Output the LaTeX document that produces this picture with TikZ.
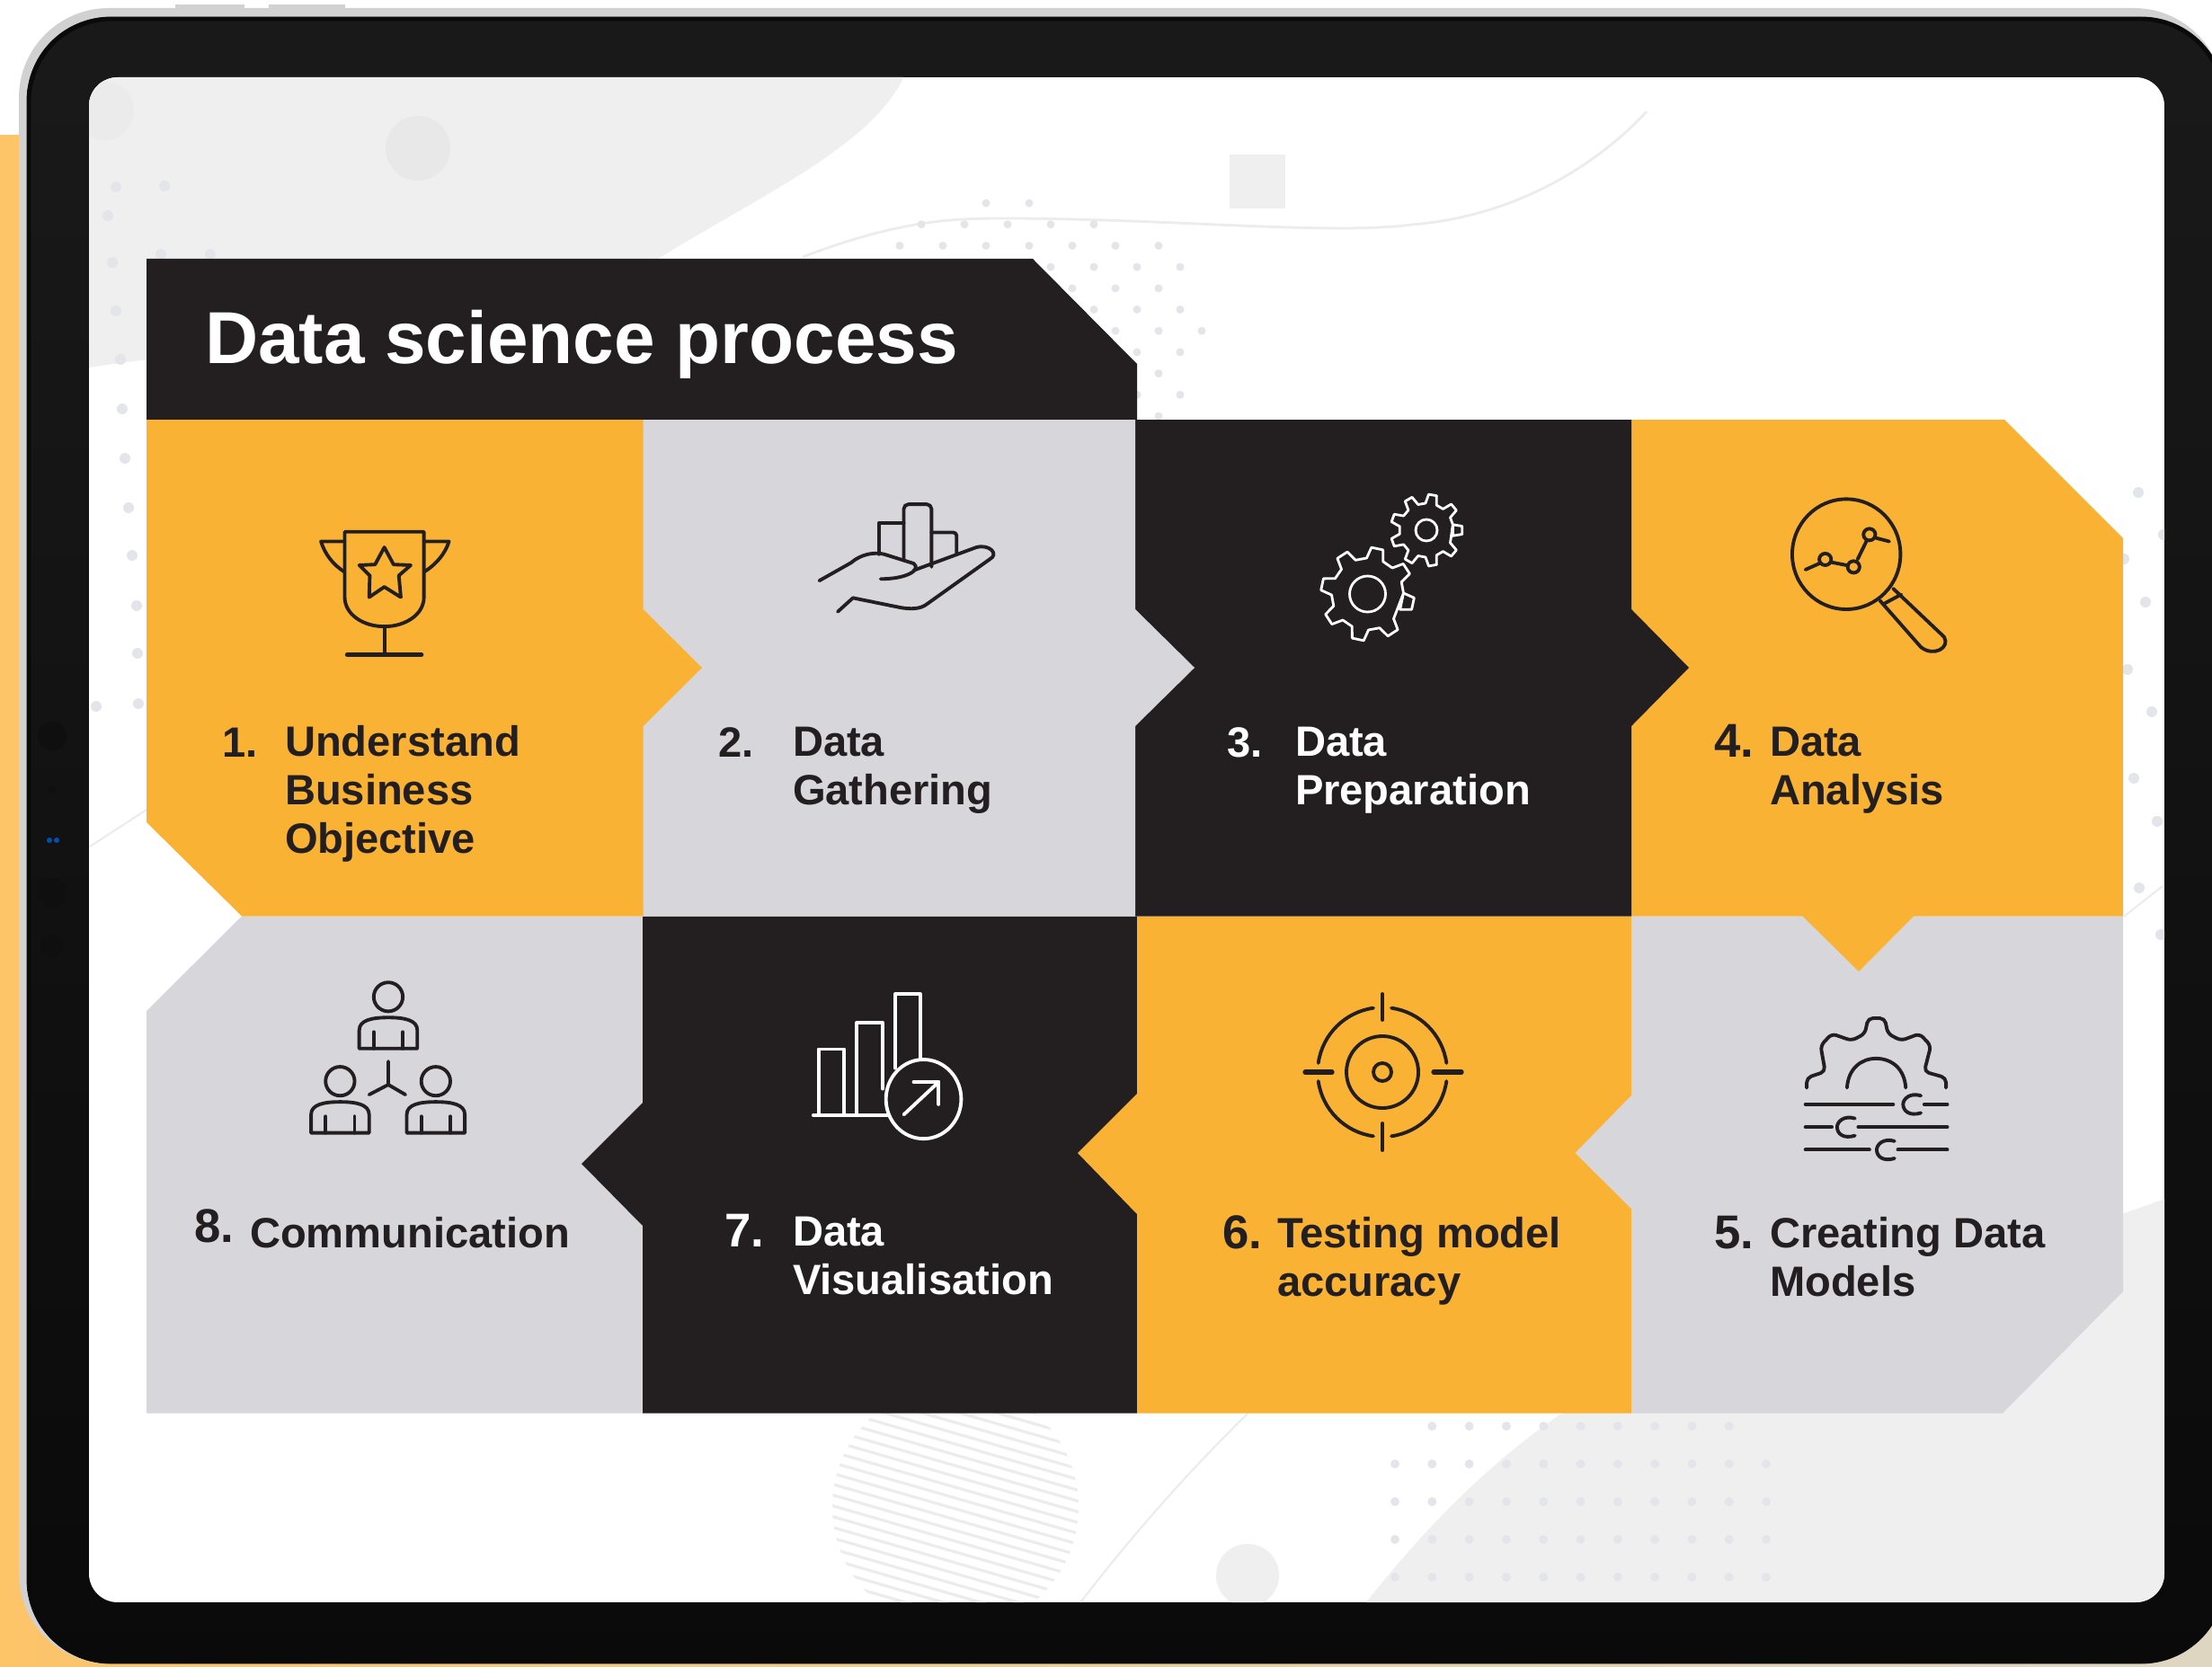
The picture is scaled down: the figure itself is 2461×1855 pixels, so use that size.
\documentclass[tikz,border=0pt]{standalone}
\usepackage{fontspec}
\setmainfont{Liberation Sans}
\definecolor{cOrange}{HTML}{F9B233}
\definecolor{cGray}{HTML}{D6D6DB}
\definecolor{cInk}{HTML}{231F20}
\definecolor{cBack}{HTML}{FDC468}
\definecolor{cBeige}{HTML}{DFD6C2}
\definecolor{cBlob}{HTML}{EFEFEF}
\definecolor{cDot}{HTML}{E4E5EA}
\definecolor{cFaint}{HTML}{ECECEC}
\tikzset{
  ico/.style={line width=1.1pt,line join=round,line cap=round,draw=#1},
  ico/.default=cInk,
  lab/.style={anchor=base west,align=left,inner sep=0pt,outer sep=0pt,text=cInk,
    font=\bfseries\fontsize{13.4}{15.25}\selectfont},
  num/.style={lab},
  bignum/.style={lab,font=\bfseries\fontsize{15}{17}\selectfont},
  zoomA/.style={shift={(150,450)},x=0.007334cm,y=-0.003827cm},
  zoomB/.style={shift={(1300,450)},x=0.007334cm,y=-0.003827cm},
  zoomC/.style={shift={(150,1020)},x=0.007334cm,y=-0.003827cm},
  zoomD/.style={shift={(1300,1020)},x=0.007334cm,y=-0.003827cm},
}
\newcommand{\gearicon}[6]{%
  \begin{scope}[shift={(#1,#2)}]
    \draw[ico=white,line width=0.8pt] ({#6-108/#5}:#4)
      \foreach \k [evaluate=\k as \a using #6+\k*360/#5] in {1,...,#5} {
        -- ({\a-108/#5}:#4) -- ({\a-58/#5}:#3) -- ({\a+58/#5}:#3) -- ({\a+108/#5}:#4)
      } -- cycle;
  \end{scope}}
\begin{document}
\begin{tikzpicture}[x=0.01cm,y=-0.01cm]
\useasboundingbox (0,0) rectangle (2461,1855);
% surroundings
\fill[white] (0,0) rectangle (2461,1855);
\fill[cBack] (0,150) rectangle (200,1855);
\shade[left color=cBack,right color=cBeige] (0,1700) rectangle (2461,1855);
% tablet
\fill[rounded corners=100*0.01cm,fill=black!18] (21,9) rectangle (2474,1851);
\shade[rounded corners=92*0.01cm,top color=black!90,bottom color=black!96]
  (30,19) rectangle (2474,1851);
\draw[rounded corners=92*0.01cm,line width=1.4pt,draw=black!96] (32,21) rectangle (2474,1849);
\fill[black!18] (195,5) rectangle (272,11);
\fill[black!18] (299,5) rectangle (384,11);
\fill[black!94] (58,819) circle (16);
\fill[black!94] (58,878) circle (4);
\fill[black!94] (58,993) circle (16);
\fill[black!94] (58,1052) circle (13);
\fill[blue!55!cyan!70!black] (55,935) circle (3) (63,935) circle (3);
% screen
\begin{scope}
\clip[rounded corners=32*0.01cm] (99,86) rectangle (2408,1783);
\fill[white] (99,86) rectangle (2408,1783);
\fill[cBlob] (90,80) -- (1008,80) .. controls (975,160) and (850,215) .. (732,288)
  -- (163,400) -- (90,410) -- cycle;
\fill[black!8] (116,123) circle (33);
\fill[black!9] (465,165) circle (36);
\fill[cBlob] (1368,172) rectangle (1430,232);
\draw[cFaint,line width=0.8pt] (893,286) .. controls (1000,245) and (1060,243) .. (1116,243)
  .. controls (1300,243) and (1480,262) .. (1570,250) .. controls (1700,240) and (1790,170) .. (1832,124);
% dot field behind the heading
\foreach \r in {0,...,10} {
  \foreach \c in {-4,...,5} {
    \pgfmathsetmacro{\px}{1145+48*\c-(mod(\r,2)==0?0:24)}
    \pgfmathsetmacro{\py}{226+23.7*\r}
    \pgfmathsetmacro{\val}{((\px-1130)/210)^2+((\py-370)/150)^2}
    \ifdim\val pt<1pt
      \fill[cDot] (\px,\py) circle (4.5);
    \fi
  }
}
% dots beside the panel
\foreach \px/\py in {129/208,183/207,120/240,125/292,179/283,234/283,129/346,134/400,136/455,139/510,143/565,147/618,152/674,153/727,154/783,107/786,
  2379/548,2407/595,2363/622,2387/670,2367/745,2394/792,2374/866,2400/914,2380/988,2404/1040}
  \fill[cDot] (\px,\py) circle (6);
\draw[cFaint,line width=0.6pt] (100,942) -- (163,901);
\draw[cFaint,line width=0.6pt] (2406,986) -- (2363,1020);
% lower right blob
\fill[cBlob] (2420,1330) -- (1737,1573) .. controls (1640,1640) and (1570,1720) .. (1520,1783)
  -- (2420,1795) -- cycle;
\fill[cBlob] (1388,1753) circle (35);
\draw[cFaint,line width=0.6pt] (1388,1573) .. controls (1310,1650) and (1255,1715) .. (1202,1783);
\foreach \ki in {0,...,4} \foreach \kj in {0,...,10}
  {\pgfmathsetmacro{\px}{1552+41.3*\kj}\pgfmathsetmacro{\py}{1587+42*\ki}
   \ifnum\numexpr\ki*100+\kj\relax=0 \else
   \ifnum\numexpr\ki*100+\kj\relax=10 \else
   \fill[cDot] (\px,\py) circle (5);\fi\fi}
\begin{scope}
\clip (1063,1677) circle (137);
\foreach \hy in {1440,1452,...,1800}
  \draw[cFaint,line width=0.9pt] (900,\hy) -- ++(340,98);
\end{scope}
\end{scope}
% heading
\fill[cInk] (163,288) -- (1149,288) -- (1265,405) -- (1265,467) -- (163,467) -- cycle;
\node[lab,text=white,font=\bfseries\fontsize{23.3}{26}\selectfont] (title) at (228,405) {Data science process};
% row two
\fill[cGray] (269,1019.5) -- (715,1019.5) -- (715,1572.6) -- (163,1572.6) -- (163,1125) -- cycle;
\fill[cInk] (715,1019.5) -- (1265,1019.5) -- (1265,1572.6) -- (715,1572.6) -- (715,1364) -- (647,1295) -- (715,1227) -- cycle;
\fill[cOrange] (1265,1019.5) -- (1815,1019.5) -- (1815,1572.6) -- (1265,1572.6) -- (1265,1351) -- (1199,1283) -- (1265,1217) -- cycle;
\fill[cGray] (1815,1019.5) -- (2362,1019.5) -- (2362,1437) -- (2228,1572.6) -- (1815,1572.6) -- (1815,1345) -- (1752.5,1283) -- (1815,1219) -- cycle;
% row one
\fill[cOrange] (1815,467) -- (2230,467) -- (2362,599) -- (2362,1019.5) -- (2129,1019.5) -- (2068,1081) -- (2005.5,1019.5) -- (1815,1019.5) -- cycle;
\fill[cInk] (1263,467) -- (1815,467) -- (1815,678) -- (1879,743) -- (1815,808) -- (1815,1019.5) -- (1263,1019.5) -- cycle;
\fill[cGray] (715,467) -- (1263,467) -- (1263,678) -- (1329,743) -- (1263,808) -- (1263,1019.5) -- (715,1019.5) -- cycle;
\fill[cOrange] (163,467) -- (715.5,467) -- (715.5,678) -- (781,743) -- (715.5,808) -- (715.5,1019.5) -- (269,1019.5) -- (163,915) -- cycle;
% labels (a several-line node sits on the baseline of its last line)
\node[num] (n1) at (247,842) {1.};
\node[lab] (l1) at (317,949) {Understand\\Business\\Objective};
\node[num] (n2) at (799,842) {2.};
\node[lab] (l2) at (882,895.6) {Data\\Gathering};
\node[num,text=white] (n3) at (1365,842) {3.};
\node[lab,text=white] (l3) at (1441,895.6) {Data\\Preparation};
\node[bignum] (n4) at (1907,842) {4.};
\node[lab] (l4) at (1969,895.6) {Data\\Analysis};
\node[bignum] (n5) at (1907,1389) {5.};
\node[lab] (l5) at (1969,1442.6) {Creating Data\\Models};
\node[bignum] (n6) at (1360,1389) {6.};
\node[lab] (l6) at (1421,1442.6) {Testing model\\accuracy};
\node[bignum,text=white] (n7) at (806,1387) {7.};
\node[lab,text=white] (l7) at (882,1440.6) {Data\\Visualisation};
\node[bignum] (n8) at (216,1382) {8.};
\node[lab] (l8) at (278,1388) {Communication};
% trophy
\begin{scope}[zoomA]
\draw[ico] (318,370) -- (438,370) -- (438,560) .. controls (438,610) and (410,645) .. (378,645)
  .. controls (346,645) and (318,610) .. (318,560) -- cycle;
\draw[ico] (318,398) -- (282,398) .. controls (288,435) and (300,465) .. (318,487);
\draw[ico] (438,398) -- (476,398) .. controls (470,435) and (456,465) .. (438,487);
\draw[ico] (378,415) -- (392,465) -- (418,467) -- (400,497) -- (403,560) -- (378,530) -- (355,560) -- (356,497) -- (340,467) -- (364,465) -- cycle;
\draw[ico] (378,645) -- (378,725);
\draw[ico,line width=1.5pt] (322,727) -- (434,727);
\end{scope}
% hand with bars
\begin{scope}[zoomA]
\draw[ico] (1127,435) -- (1127,345) -- (1165,345);
\draw[ico,rounded corners=1.5pt] (1165,450) -- (1165,290) -- (1207,290) -- (1207,472);
\draw[ico,rounded corners=1pt] (1207,372) -- (1245,372) -- (1245,435);
\draw[ico] (1037,512) -- (1085,460) .. controls (1100,435) and (1120,428) .. (1135,435) -- (1180,462)
  .. controls (1192,480) and (1170,507) .. (1130,507);
\draw[ico] (1180,482) -- (1275,415) .. controls (1295,405) and (1310,435) .. (1295,450) -- (1200,580)
  .. controls (1190,595) and (1175,595) .. (1160,590) -- (1088,562) -- (1065,602);
\end{scope}
% gears
\gearicon{1521.5}{661}{52}{40}{8}{12}
\gearicon{1587}{590}{40}{30}{9}{0}
\draw[ico=white,line width=0.8pt] (1521.5,661) circle (20);
\draw[ico=white,line width=0.8pt] (1587,590) circle (12);
% magnifier
\begin{scope}[zoomB]
\draw[ico] (1027,435) circle [x radius=82,y radius=160];
\draw[ico] (1098,535) -- (1175,675) .. controls (1185,705) and (1160,735) .. (1140,705) -- (1078,570);
\draw[ico] (1083,580) -- (1110,552);
\draw[ico] (965,480) -- (986,462);
\draw[ico] (1003,458) -- (1030,468);
\draw[ico] (1044,450) -- (1058,395);
\draw[ico] (1072,388) -- (1092,398);
\draw[ico] (995,450) circle [x radius=9,y radius=17];
\draw[ico] (1038,472) circle [x radius=9,y radius=17];
\draw[ico] (1062,378) circle [x radius=9,y radius=17];
\end{scope}
% target
\draw[ico] (1538,1193) ++(8:72) arc (8:82:72);
\draw[ico] (1538,1193) ++(98:72) arc (98:172:72);
\draw[ico] (1538,1193) ++(188:72) arc (188:262:72);
\draw[ico] (1538,1193) ++(278:72) arc (278:352:72);
\draw[ico] (1538,1193) circle (40);
\draw[ico] (1538,1193) circle (10);
\draw[ico] (1538,1106) -- (1538,1135);
\draw[ico] (1538,1250) -- (1538,1280);
\draw[ico,line width=1.5pt] (1452,1193) -- (1482,1193);
\draw[ico,line width=1.5pt] (1595,1193) -- (1626,1193);
% settings gear with sliders
\begin{scope}[zoomD]
\draw[ico,rounded corners=1.5pt] (967,497) -- (967,468) -- (995,450) -- (988,375) -- (1005,340) -- (1035,360) -- (1055,340) -- (1060,295)
  -- (1085,295) -- (1090,340) -- (1110,360) -- (1138,340) -- (1155,375) -- (1145,450) -- (1178,468) -- (1178,497);
\draw[ico] (1028,497) .. controls (1030,440) and (1050,412) .. (1072,412) .. controls (1095,412) and (1115,440) .. (1117,497);
\draw[ico] (965,545) -- (1098,545);
\draw[ico] (1145,545) -- (1180,545);
\draw[ico] (965,611) -- (1005,611);
\draw[ico] (1045,611) -- (1180,611);
\draw[ico] (965,677) -- (1062,677);
\draw[ico] (1105,677) -- (1180,677);
\foreach \kx/\ky in {1128/545,1028/611,1088/677}
  \draw[ico] (\kx+12,\ky-25) .. controls (\kx-5,\ky-35) and (\kx-15,\ky-15) .. (\kx-15,\ky)
    .. controls (\kx-15,\ky+20) and (\kx-5,\ky+35) .. (\kx+12,\ky+25);
\end{scope}
% people
\begin{scope}[zoomC]
\foreach \cx/\dy in {384/0,311/245,456/245} {
  \draw[ico] (\cx,233+\dy) circle [x radius=22,y radius=42];
  \draw[ico] (\cx-44,383+\dy) -- (\cx-44,330+\dy) .. controls (\cx-44,300+\dy) and (\cx-24,293+\dy) .. (\cx,293+\dy)
    .. controls (\cx+24,293+\dy) and (\cx+44,300+\dy) .. (\cx+44,330+\dy) -- (\cx+44,383+\dy) -- cycle;
  \draw[ico] (\cx-22,335+\dy) -- (\cx-22,383+\dy);
  \draw[ico] (\cx+22,335+\dy) -- (\cx+22,383+\dy);
}
\draw[ico] (384,420) -- (384,488) -- (355,517);
\draw[ico] (384,488) -- (410,517);
\end{scope}
% bars with arrow circle
\begin{scope}[zoomC]
\draw[ico=white] (1028,577) -- (1140,577);
\draw[ico=white] (1036,577) -- (1036,385) -- (1075,385) -- (1075,577);
\draw[ico=white] (1094,577) -- (1094,308) -- (1133,308) -- (1133,500);
\draw[ico=white] (1152,440) -- (1152,225) -- (1190,225) -- (1190,415);
\draw[ico=white] (1195,530) circle [x radius=57,y radius=115];
\draw[ico=white] (1165,575) -- (1218,480);
\draw[ico=white] (1180,480) -- (1218,480) -- (1218,545);
\end{scope}
\end{tikzpicture}
\end{document}
